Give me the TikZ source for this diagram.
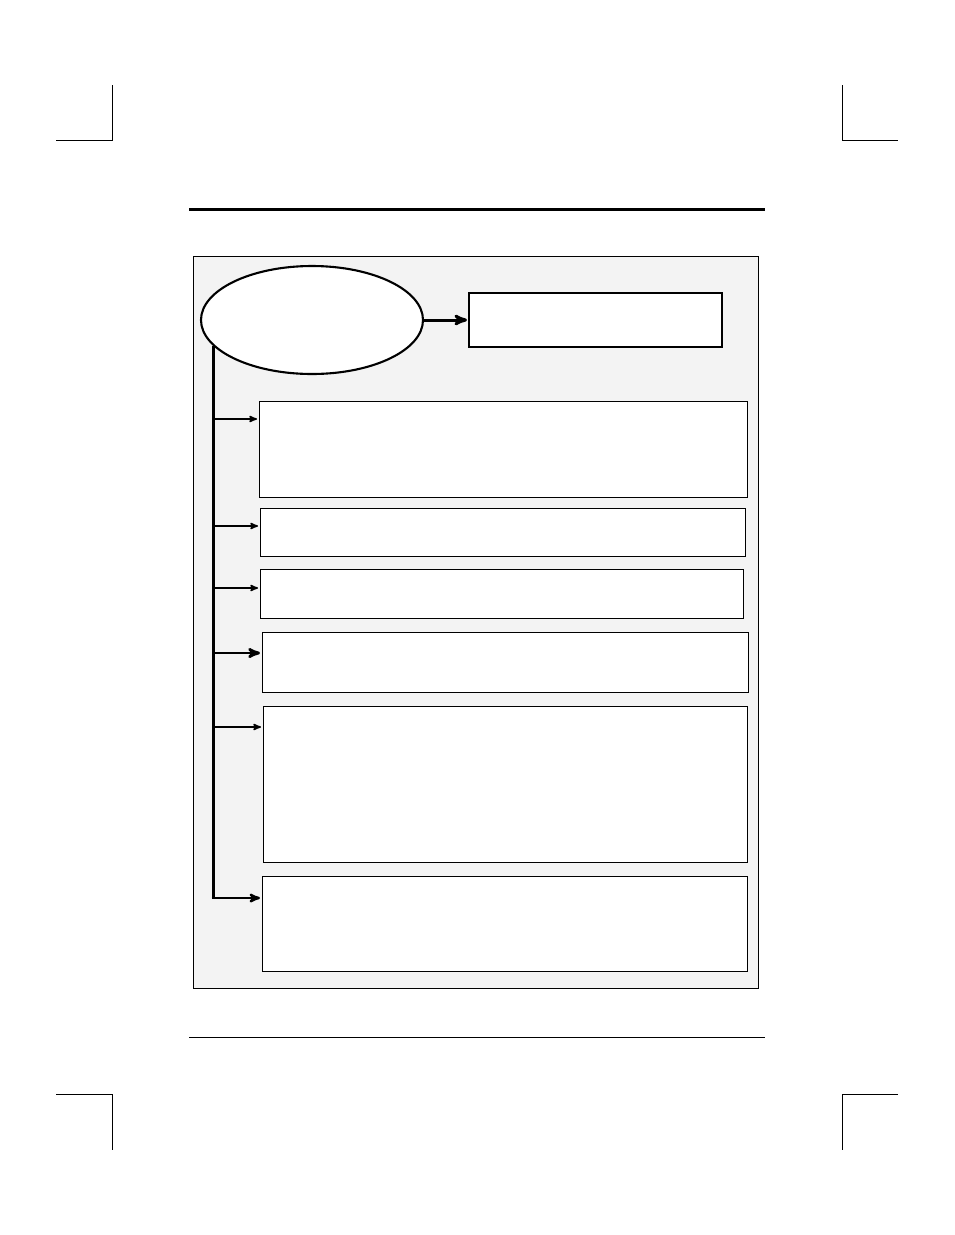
\documentclass[tikz,border=0pt]{standalone}
\usepackage{xcolor}
\usetikzlibrary{shapes.geometric,arrows}
\definecolor{panelgray}{RGB}{243,243,243}
\tikzset{
  cropmark/.style={line width=0.8pt},
  infobox/.style={draw,fill=white,rectangle,line width=0.9pt,inner sep=0pt,outer sep=0pt,anchor=north west},
  branch/.style={->,>=stealth',shorten >=2pt,line width=1.6pt}
}
\begin{document}
\begin{tikzpicture}[x=1pt,y=-1pt]
		\useasboundingbox (0,0) rectangle (954,1235);
		% crop marks
		\draw[cropmark] (112,85) -- (112,140) -- (56,140);
		\draw[cropmark] (842,85) -- (842,140) -- (898,140);
		\draw[cropmark] (56,1094) -- (112,1094) -- (112,1150);
		\draw[cropmark] (898,1094) -- (842,1094) -- (842,1150);
		% page rules
		\draw[line width=3pt] (189,209) -- (765,209);
		\draw[line width=1pt] (189,1037) -- (765,1037);
		% panel
		\draw[fill=panelgray,line width=1pt] (193,256) rectangle (758,988);

		\node[ellipse,draw,fill=white,line width=2.1pt,minimum width=222pt,minimum height=108pt,inner sep=0pt] (src) at (312,320) {};
		\node[infobox,line width=2.2pt,minimum width=253pt,minimum height=54pt] (top) at (469,293) {};
		\node[infobox,minimum width=488pt,minimum height=96pt] (b1) at (259,401) {};
		\node[infobox,minimum width=485pt,minimum height=48pt] (b2) at (260,508) {};
		\node[infobox,minimum width=483pt,minimum height=49pt] (b3) at (260,569) {};
		\node[infobox,minimum width=486pt,minimum height=60pt] (b4) at (262,632) {};
		\node[infobox,minimum width=484pt,minimum height=156pt] (b5) at (263,706) {};
		\node[infobox,minimum width=485pt,minimum height=95pt] (b6) at (262,876) {};

		\coordinate (t0) at (213,346);
		\coordinate (j1) at (213,419);
		\coordinate (j2) at (213,526);
		\coordinate (j3) at (213,588);
		\coordinate (j4) at (213,653);
		\coordinate (j5) at (213,727);
		\coordinate (j6) at (213,898);

		\draw[branch,line width=3pt] (src.east) -- (top.west |- src.east);
		\draw[line width=3pt] (t0) -- (j6);
		\draw[branch] (j1) -- (j1 -| b1.west);
		\draw[branch] (j2) -- (j2 -| b2.west);
		\draw[branch] (j3) -- (j3 -| b3.west);
		\draw[branch,line width=2.8pt] (j4) -- (j4 -| b4.west);
		\draw[branch] (j5) -- (j5 -| b5.west);
		\draw[branch,line width=2.4pt] ([xshift=-1.5pt]j6) -- (j6 -| b6.west);
\end{tikzpicture}
\end{document}
